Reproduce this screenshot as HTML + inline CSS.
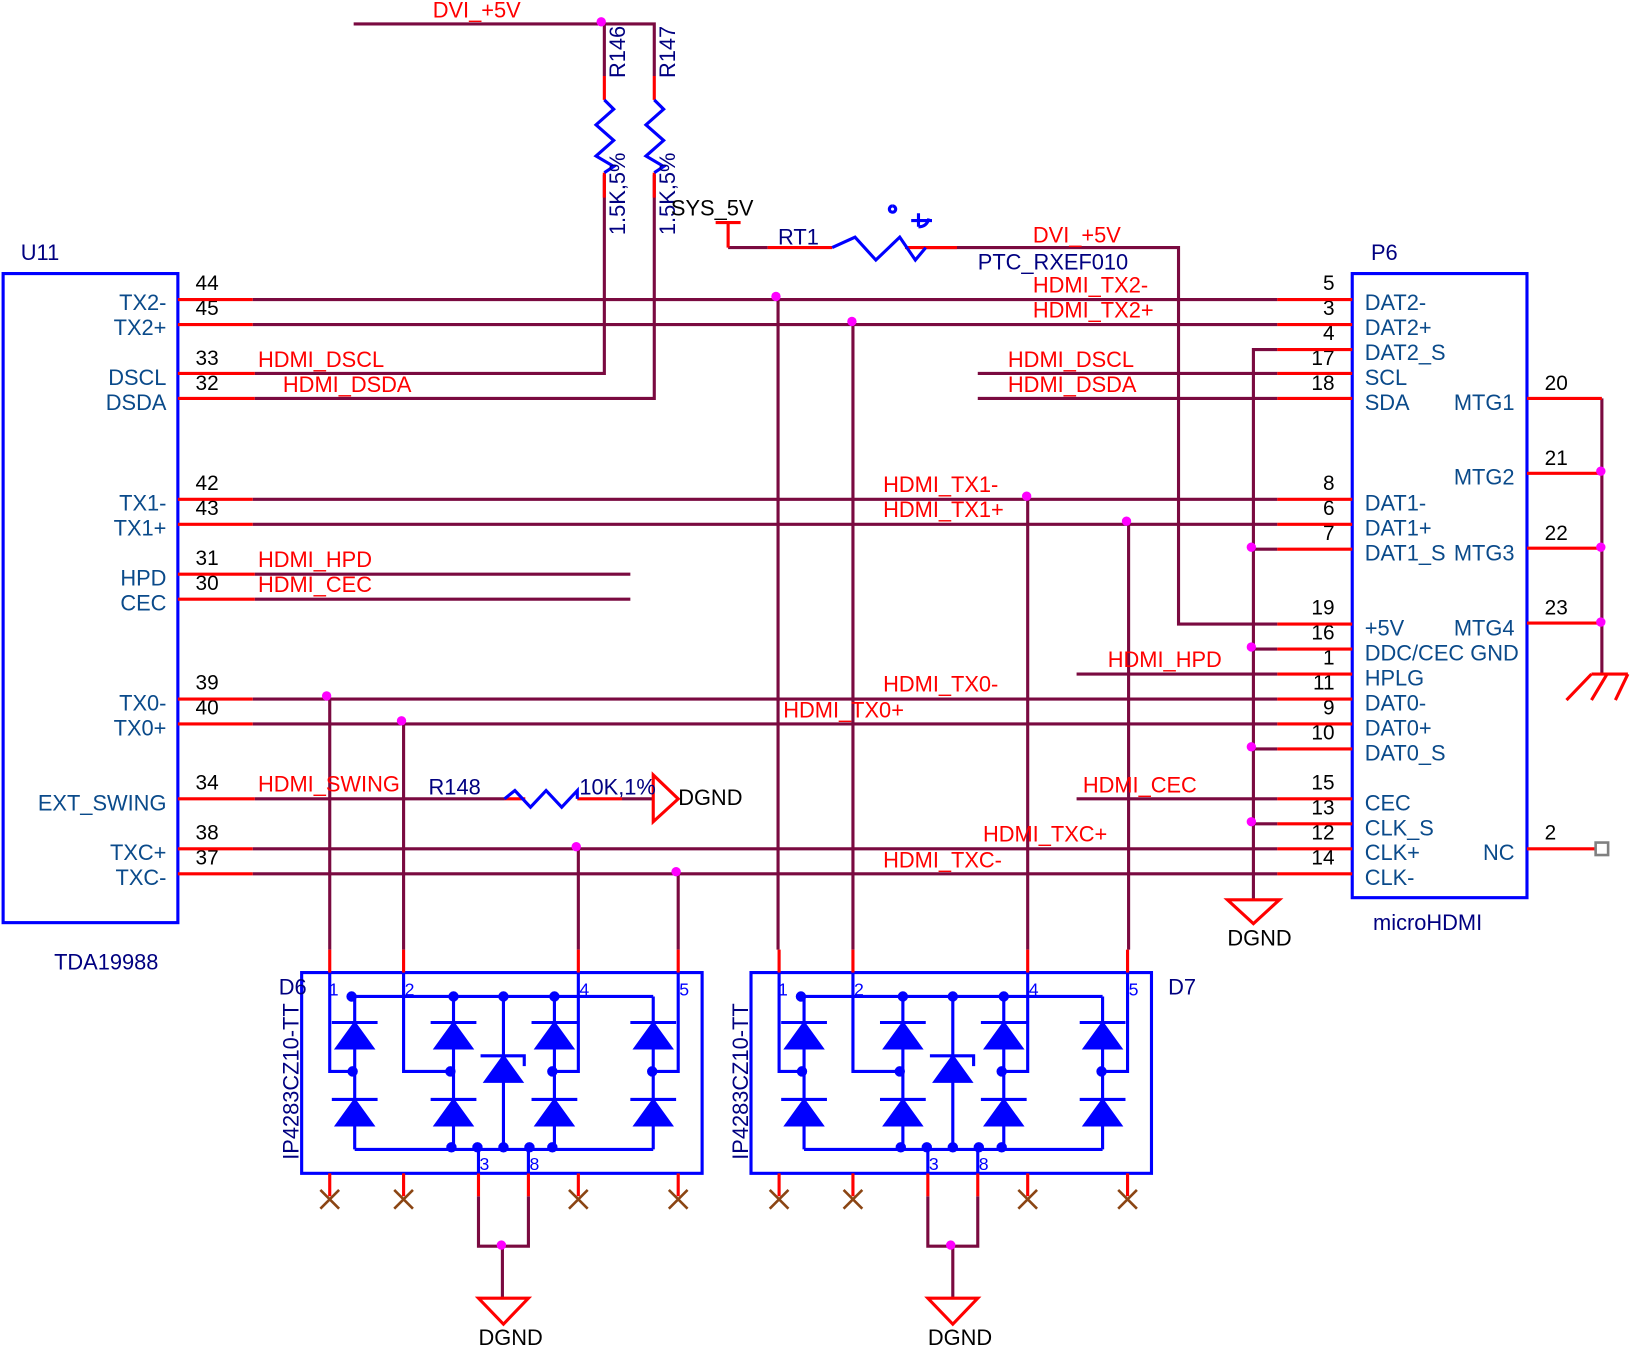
<!DOCTYPE html>
<html><head><meta charset="utf-8"><style>
html,body{margin:0;padding:0;background:#fff;}
svg{display:block;}
text{font-family:"Liberation Sans",sans-serif;}
.w{stroke:#7a0a40;stroke-width:3;fill:none;}
.p{stroke:#ff0000;stroke-width:3;fill:none;}
.b{stroke:#0000ff;stroke-width:3;fill:none;}
.bf{fill:#0000ff;stroke:#0000ff;stroke-width:2;}
.nm{fill:#0a4a8a;font-size:21px;}
.ref{fill:#000080;font-size:21px;}
.net{fill:#ff0000;font-size:21px;}
.num{fill:#000;font-size:20px;}
.j{fill:#ff00ff;}
.x{stroke:#8b4513;stroke-width:2.5;}
.dn{fill:#0000ff;font-size:17px;font-family:"Liberation Serif",serif;}
</style></head><body>
<svg width="1631" height="1346" viewBox="0 0 1568 1294" xmlns="http://www.w3.org/2000/svg">
<rect x="3" y="263" width="168" height="624" class="b"/>
<text x="20" y="250" class="ref">U11</text>
<text x="52" y="932" class="ref">TDA19988</text>
<g class="nm" text-anchor="end">
<text x="160" y="298">TX2-</text><text x="160" y="322">TX2+</text>
<text x="160" y="370">DSCL</text><text x="160" y="394">DSDA</text>
<text x="160" y="491">TX1-</text><text x="160" y="515">TX1+</text>
<text x="160" y="563">HPD</text><text x="160" y="587">CEC</text>
<text x="160" y="683">TX0-</text><text x="160" y="707">TX0+</text>
<text x="160" y="779">EXT_SWING</text>
<text x="160" y="827">TXC+</text><text x="160" y="851">TXC-</text>
</g>
<g class="num">
<text x="188" y="279">44</text><text x="188" y="303">45</text>
<text x="188" y="351">33</text><text x="188" y="375">32</text>
<text x="188" y="471">42</text><text x="188" y="495">43</text>
<text x="188" y="543">31</text><text x="188" y="567">30</text>
<text x="188" y="663">39</text><text x="188" y="687">40</text>
<text x="188" y="759">34</text>
<text x="188" y="807">38</text><text x="188" y="831">37</text>
</g>
<g class="p">
<path d="M171 288H243M171 312H243M171 359H245M171 383H245M171 480H243M171 504H243M171 552H245M171 576H245M171 672H243M171 696H243M171 768H245M171 816H243M171 840H243"/>
</g>
<g class="w">
<path d="M243 288H1228M243 312H1228M243 480H1228M243 504H1228M243 672H1228M243 696H1228M243 816H1228M243 840H1228"/>
<path d="M245 359H581V168M245 383H629V168"/>
<path d="M245 552H606M245 576H606"/>
<path d="M245 768H485M598 768H628"/>
<path d="M340 23H629V73M581 23V73"/>
<path d="M700 238H738M890 238H1133V600H1228"/>
<path d="M940 359H1228M940 383H1228"/>
<path d="M1035 648H1228M1035 768H1228"/>
<path d="M1205 865V336H1228M1205 528H1228M1205 624H1228M1205 720H1228M1205 792H1228"/>
<path d="M1540 383V648"/>
<path d="M317 672V913M388 696V913M556 816V913M652 840V913"/>
<path d="M748 288V913M820 312V913M988 480V913M1085 504V913"/>
<path d="M460 1150V1198H508V1150M483 1198V1248"/>
<path d="M892 1150V1198H940V1150M916 1198V1248"/>
</g>
<g class="p"><path d="M581 73V96M629 73V96M581 166V190M629 166V190"/></g>
<g class="b">
<path d="M581 96L590 105L573 120L590 135L573 150L590 160L581 166"/>
<path d="M629 96L638 105L621 120L638 135L621 150L638 160L629 166"/>
</g>
<text transform="translate(601,75) rotate(-90)" class="ref">R146</text>
<text transform="translate(649,75) rotate(-90)" class="ref">R147</text>
<text transform="translate(601,226) rotate(-90)" class="ref">1.5K,5%</text>
<text transform="translate(649,226) rotate(-90)" class="ref">1.5K,5%</text>
<text x="416" y="17" class="net">DVI_+5V</text>
<g class="p"><path d="M688 214H712M700 214V238M738 238H800M870 238H920"/></g>
<g class="b"><path d="M800 238L822 228L842 250L865 228L880 250L890 238"/>
<path d="M858 198a3 3 0 1 0 0.1 0M883 205V218M876 212H896M883 218q8 0 10-8"/></g>
<text x="645" y="207" fill="#000" font-size="21">SYS_5V</text>
<text x="748" y="235" class="ref">RT1</text>
<text x="940" y="259" class="ref">PTC_RXEF010</text>
<text x="993" y="233" class="net">DVI_+5V</text>
<g class="net">
<text x="248" y="353">HDMI_DSCL</text><text x="272" y="377">HDMI_DSDA</text>
<text x="248" y="545">HDMI_HPD</text><text x="248" y="569">HDMI_CEC</text>
<text x="248" y="761">HDMI_SWING</text>
<text x="993" y="281">HDMI_TX2-</text><text x="993" y="305">HDMI_TX2+</text>
<text x="969" y="353">HDMI_DSCL</text><text x="969" y="377">HDMI_DSDA</text>
<text x="849" y="473">HDMI_TX1-</text><text x="849" y="497">HDMI_TX1+</text>
<text x="1065" y="641">HDMI_HPD</text>
<text x="849" y="665">HDMI_TX0-</text><text x="753" y="690">HDMI_TX0+</text>
<text x="1041" y="762">HDMI_CEC</text>
<text x="945" y="809">HDMI_TXC+</text><text x="849" y="834">HDMI_TXC-</text>
</g>
<g class="p"><path d="M485 768H505M555 768H598"/><path d="M628 745V790L652 768Z" stroke-linejoin="miter"/></g>
<path d="M485 768L495 760L510 776L525 760L540 776L555 760L555 768" class="b"/>
<text x="412" y="764" class="ref">R148</text>
<text x="557" y="764" class="ref">10K,1%</text>
<text x="652" y="774" fill="#000" font-size="21">DGND</text>
<rect x="1300" y="263" width="168" height="600" class="b"/>
<text x="1318" y="250" class="ref">P6</text>
<text x="1320" y="894" class="ref">microHDMI</text>
<g class="nm">
<text x="1312" y="298">DAT2-</text><text x="1312" y="322">DAT2+</text><text x="1312" y="346">DAT2_S</text>
<text x="1312" y="370">SCL</text><text x="1312" y="394">SDA</text>
<text x="1312" y="491">DAT1-</text><text x="1312" y="515">DAT1+</text><text x="1312" y="539">DAT1_S</text>
<text x="1312" y="611">+5V</text><text x="1312" y="635">DDC/CEC GND</text><text x="1312" y="659">HPLG</text>
<text x="1312" y="683">DAT0-</text><text x="1312" y="707">DAT0+</text><text x="1312" y="731">DAT0_S</text>
<text x="1312" y="779">CEC</text><text x="1312" y="803">CLK_S</text><text x="1312" y="827">CLK+</text><text x="1312" y="851">CLK-</text>
</g>
<g class="nm" text-anchor="end">
<text x="1456" y="394">MTG1</text><text x="1456" y="466">MTG2</text><text x="1456" y="539">MTG3</text><text x="1456" y="611">MTG4</text><text x="1456" y="827">NC</text>
</g>
<g class="num" text-anchor="end">
<text x="1283" y="279">5</text><text x="1283" y="303">3</text><text x="1283" y="327">4</text>
<text x="1283" y="351">17</text><text x="1283" y="375">18</text>
<text x="1283" y="471">8</text><text x="1283" y="495">6</text><text x="1283" y="519">7</text>
<text x="1283" y="591">19</text><text x="1283" y="615">16</text><text x="1283" y="639">1</text>
<text x="1283" y="663">11</text><text x="1283" y="687">9</text><text x="1283" y="711">10</text>
<text x="1283" y="759">15</text><text x="1283" y="783">13</text><text x="1283" y="807">12</text><text x="1283" y="831">14</text>
</g>
<g class="num">
<text x="1485" y="375">20</text><text x="1485" y="447">21</text><text x="1485" y="519">22</text><text x="1485" y="591">23</text><text x="1485" y="807">2</text>
</g>
<g class="p">
<path d="M1228 288H1300M1228 312H1300M1228 336H1300M1228 359H1300M1228 383H1300M1228 480H1300M1228 504H1300M1228 528H1300M1228 600H1300M1228 624H1300M1228 648H1300M1228 672H1300M1228 696H1300M1228 720H1300M1228 768H1300M1228 792H1300M1228 816H1300M1228 840H1300"/>
<path d="M1468 383H1540M1468 455H1540M1468 527H1540M1468 599H1540M1468 816H1533"/>
<path d="M1530 648H1565M1545 648L1530 673M1530 648L1506 673M1565 648L1553 673M1530 648"/>
<path d="M1180 865H1230L1205 888Z"/>
</g>
<rect x="1534" y="810" width="12" height="12" fill="none" stroke="#808080" stroke-width="2.5"/>
<text x="1180" y="909" fill="#000" font-size="21">DGND</text>
<g class="j">
<circle cx="578" cy="21" r="4.5"/><circle cx="746" cy="285" r="4.5"/><circle cx="819" cy="309" r="4.5"/>
<circle cx="987" cy="477" r="4.5"/><circle cx="1083" cy="501" r="4.5"/>
<circle cx="314" cy="669" r="4.5"/><circle cx="386" cy="693" r="4.5"/>
<circle cx="554" cy="814" r="4.5"/><circle cx="650" cy="838" r="4.5"/>
<circle cx="1203" cy="526" r="4.5"/><circle cx="1203" cy="622" r="4.5"/><circle cx="1203" cy="718" r="4.5"/><circle cx="1203" cy="790" r="4.5"/>
<circle cx="1539" cy="453" r="4.5"/><circle cx="1539" cy="526" r="4.5"/><circle cx="1539" cy="598" r="4.5"/>
<circle cx="482" cy="1197" r="4.5"/><circle cx="914" cy="1197" r="4.5"/>
</g>
<g>
<rect x="290" y="935" width="385" height="193" class="b"/>
<g class="p"><path d="M317 913V935M388 913V935M556 913V935M652 913V935M317 1128V1150M388 1128V1150M460 1128V1150M508 1128V1150M556 1128V1150M652 1128V1150"/></g>
<g class="b">
<path d="M317 935V1030H341M388 935V1030H436M556 935V1030H533M652 935V1030H628"/>
<path d="M341 958H628M341 1105H628"/>
<path d="M341 958V1105M436 958V1105M533 958V1105M628 958V1105M484 958V1105"/>
<path d="M460 1105V1128M508 1105V1128"/>
<path d="M319 983H363M414 983H458M511 983H555M606 983H650M319 1057H363M414 1057H458M511 1057H555M606 1057H650"/>
<path d="M462 1015H504V1025"/>
</g>
<g class="bf">
<path d="M323 1008H359L341 983Z"/><path d="M418 1008H454L436 983Z"/><path d="M515 1008H551L533 983Z"/><path d="M610 1008H646L628 983Z"/>
<path d="M323 1082H359L341 1057Z"/><path d="M418 1082H454L436 1057Z"/><path d="M515 1082H551L533 1057Z"/><path d="M610 1082H646L628 1057Z"/>
<path d="M466 1040H502L484 1015Z"/>
<circle cx="338" cy="958" r="4"/><circle cx="436" cy="958" r="4"/><circle cx="484" cy="958" r="4"/><circle cx="533" cy="958" r="4"/>
<circle cx="339" cy="1030" r="4"/><circle cx="433" cy="1030" r="4"/><circle cx="531" cy="1030" r="4"/><circle cx="627" cy="1030" r="4"/>
<circle cx="434" cy="1103" r="4"/><circle cx="459" cy="1103" r="4"/><circle cx="484" cy="1103" r="4"/><circle cx="509" cy="1103" r="4"/><circle cx="531" cy="1103" r="4"/>
</g>
<g class="x"><path d="M308 1144L326 1162M326 1144L308 1162M379 1144L397 1162M397 1144L379 1162M547 1144L565 1162M565 1144L547 1162M643 1144L661 1162M661 1144L643 1162"/></g>
<g class="p"><path d="M460 1248H508L484 1273Z"/></g>
</g>
<text x="268" y="956" class="ref">D6</text>
<text transform="translate(287,1115) rotate(-90)" fill="#000080" font-size="21">IP4283CZ10-TT</text>
<g class="dn"><text x="316" y="957">1</text><text x="389" y="957">2</text><text x="557" y="957">4</text><text x="653" y="957">5</text><text x="461" y="1125">3</text><text x="509" y="1125">8</text></g>
<text x="460" y="1293" fill="#000" font-size="21">DGND</text>

<g transform="translate(432,0)">
<rect x="290" y="935" width="385" height="193" class="b"/>
<g class="p"><path d="M317 913V935M388 913V935M556 913V935M652 913V935M317 1128V1150M388 1128V1150M460 1128V1150M508 1128V1150M556 1128V1150M652 1128V1150"/></g>
<g class="b">
<path d="M317 935V1030H341M388 935V1030H436M556 935V1030H533M652 935V1030H628"/>
<path d="M341 958H628M341 1105H628"/>
<path d="M341 958V1105M436 958V1105M533 958V1105M628 958V1105M484 958V1105"/>
<path d="M460 1105V1128M508 1105V1128"/>
<path d="M319 983H363M414 983H458M511 983H555M606 983H650M319 1057H363M414 1057H458M511 1057H555M606 1057H650"/>
<path d="M462 1015H504V1025"/>
</g>
<g class="bf">
<path d="M323 1008H359L341 983Z"/><path d="M418 1008H454L436 983Z"/><path d="M515 1008H551L533 983Z"/><path d="M610 1008H646L628 983Z"/>
<path d="M323 1082H359L341 1057Z"/><path d="M418 1082H454L436 1057Z"/><path d="M515 1082H551L533 1057Z"/><path d="M610 1082H646L628 1057Z"/>
<path d="M466 1040H502L484 1015Z"/>
<circle cx="338" cy="958" r="4"/><circle cx="436" cy="958" r="4"/><circle cx="484" cy="958" r="4"/><circle cx="533" cy="958" r="4"/>
<circle cx="339" cy="1030" r="4"/><circle cx="433" cy="1030" r="4"/><circle cx="531" cy="1030" r="4"/><circle cx="627" cy="1030" r="4"/>
<circle cx="434" cy="1103" r="4"/><circle cx="459" cy="1103" r="4"/><circle cx="484" cy="1103" r="4"/><circle cx="509" cy="1103" r="4"/><circle cx="531" cy="1103" r="4"/>
</g>
<g class="x"><path d="M308 1144L326 1162M326 1144L308 1162M379 1144L397 1162M397 1144L379 1162M547 1144L565 1162M565 1144L547 1162M643 1144L661 1162M661 1144L643 1162"/></g>
<g class="p"><path d="M460 1248H508L484 1273Z"/></g>
<g class="dn"><text x="316" y="957">1</text><text x="389" y="957">2</text><text x="557" y="957">4</text><text x="653" y="957">5</text><text x="461" y="1125">3</text><text x="509" y="1125">8</text></g>
<text x="460" y="1293" fill="#000" font-size="21">DGND</text>
<text transform="translate(287,1115) rotate(-90)" fill="#000080" font-size="21">IP4283CZ10-TT</text>
</g>
<text x="1123" y="956" class="ref">D7</text>
</svg>
</body></html>
